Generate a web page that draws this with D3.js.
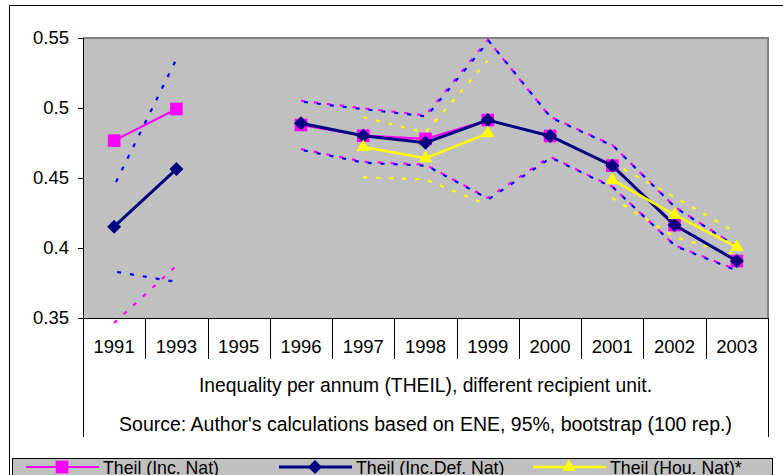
<!DOCTYPE html>
<html>
<head>
<meta charset="utf-8">
<title>Theil inequality per annum</title>
<script src="https://d3js.org/d3.v7.min.js"></script>
<style>
    body { margin: 0; background: #fff; }
    text { font-family: Arial, "Liberation Sans", sans-serif; fill: #000; }
    .ci { fill: none; stroke-width: 2.2; stroke-dasharray: 4 9; }
</style>
</head>
<body>
<script>
// categories (note: no survey for 1995)
var years = ["1991", "1993", "1995", "1996", "1997", "1998", "1999", "2000", "2001", "2002", "2003"];
var yTicks = [0.35, 0.4, 0.45, 0.5, 0.55];
var yTickLabels = ["0.35", "0.4", "0.45", "0.5", "0.55"];

// point estimates
var incNat    = [0.4767, 0.4993, null, 0.4879, 0.4802, 0.4779, 0.4914, 0.4800, 0.4588, 0.4164, 0.3907];
var incDefNat = [0.4152, 0.4564, null, 0.4891, 0.4802, 0.4752, 0.4914, 0.4800, 0.4588, 0.4164, 0.3907];
var houNat    = [null, null, null, null, 0.4721, 0.4641, 0.4819, null, 0.4486, 0.4236, 0.4007];

// 95% bootstrap bands
var incNatLo    = [0.3464, 0.3874, null, 0.4707, 0.4616, 0.4595, 0.4357, 0.4652, 0.4438, 0.4020, 0.3843];
var incNatHi    = [null, null, null, 0.5052, 0.4998, 0.4947, 0.5486, 0.4938, 0.4736, 0.4295, 0.4010];
var incDefNatLo = [0.3838, 0.3764, null, 0.4707, 0.4616, 0.4595, 0.4357, 0.4652, 0.4438, 0.4020, 0.3843];
var incDefNatHi = [0.4466, 0.5371, null, 0.5052, 0.4998, 0.4947, 0.5486, 0.4938, 0.4736, 0.4295, 0.4010];
var houNatLo    = [null, null, null, null, 0.4505, 0.4490, 0.4307, null, 0.4357, 0.4079, 0.3950];
var houNatHi    = [null, null, null, null, 0.4934, 0.4825, 0.5340, null, 0.4607, 0.4364, 0.4107];

var xTitle = "Inequality per annum (THEIL), different recipient unit.";
var source = "Source: Author's calculations based on ENE, 95%, bootstrap (100 rep.)";
var legendNames = ["Theil (Inc. Nat)", "Theil (Inc.Def. Nat)", "Theil (Hou. Nat)*"];

var W = 783, H = 475;
// plot box (note: "top" is taken by window.top, so prefixed names)
var pLeft = 83, pRight = 768, pTop = 38, pBottom = 318, tableBottom = 437;

var svg = d3.select("body").append("svg").attr("width", W).attr("height", H);

// outer chart frame (only top and left edges fall inside the window)
svg.append("path").attr("d", "M9.5," + H + "V5.5H" + W)
    .attr("fill", "none").attr("stroke", "#000");

var x = d3.scaleBand().domain(years).range([pLeft, pRight]);
var y = d3.scaleLinear().domain([0.35, 0.55]).range([pBottom, pTop]);

// plot area
svg.append("rect").attr("x", pLeft).attr("y", pTop)
    .attr("width", pRight - pLeft).attr("height", pBottom - pTop).attr("fill", "#c0c0c0");
svg.append("path").attr("d", "M" + pLeft + "," + pTop + "H" + pRight + "V" + pBottom)
    .attr("fill", "none").attr("stroke", "#808080").attr("stroke-width", 2);

// y axis
var yAxis = svg.append("g").attr("transform", "translate(" + pLeft + ",0)")
    .call(d3.axisLeft(y).tickValues(yTicks).tickSize(5).tickPadding(9)
        .tickFormat(function(d, i) { return yTickLabels[i]; }));
yAxis.select(".domain").remove();
yAxis.selectAll("text").style("font-size", "18.5px").attr("font-family", null);
yAxis.selectAll("line").attr("stroke", "#000");

// category table under the plot
svg.append("path").attr("d", "M" + pLeft + "," + (pBottom + 0.5) + "H" + pRight)
    .attr("stroke", "#000");
svg.append("path")
    .attr("d", "M" + (pLeft + 0.5) + "," + pTop + "V" + tableBottom + "M" + (pRight + 0.5) + "," + pBottom + "V" + tableBottom)
    .attr("stroke", "#000").attr("fill", "none");
svg.selectAll(".sep").data(years.slice(1)).enter().append("line")
    .attr("class", "sep")
    .attr("x1", function(d) { return Math.round(x(d)) + 0.5; })
    .attr("x2", function(d) { return Math.round(x(d)) + 0.5; })
    .attr("y1", pBottom).attr("y2", 359).attr("stroke", "#000");
svg.selectAll(".yr").data(years).enter().append("text")
    .attr("class", "yr")
    .attr("x", function(d) { return x(d) + x.bandwidth() / 2; })
    .attr("y", 353).attr("text-anchor", "middle").style("font-size", "18.5px")
    .text(function(d) { return d; });

svg.append("text").attr("x", (pLeft + pRight) / 2).attr("y", 392)
    .attr("text-anchor", "middle").style("font-size", "19.3px").text(xTitle);
svg.append("text").attr("x", (pLeft + pRight) / 2).attr("y", 431)
    .attr("text-anchor", "middle").style("font-size", "19.5px").text(source);

// lines
function lineFor(vals) {
    return d3.line()
        .defined(function(d) { return d != null; })
        .x(function(d, i) { return x(years[i]) + x.bandwidth() / 2; })
        .y(function(d) { return y(d); })(vals);
}

var bands = [
    {vals: incNatLo, color: "#ff00ff", shift: 0},
    {vals: incNatHi, color: "#ff00ff", shift: 0},
    {vals: incDefNatLo, color: "#0000ff", shift: 1},
    {vals: incDefNatHi, color: "#0000ff", shift: 1},
    {vals: houNatLo, color: "#ffff00", shift: 0},
    {vals: houNatHi, color: "#ffff00", shift: 0}
];
svg.selectAll(".ci").data(bands).enter().append("path")
    .attr("class", "ci")
    .attr("d", function(d) { return lineFor(d.vals); })
    .attr("stroke", function(d) { return d.color; })
    .attr("stroke-dashoffset", function(d) { return d.shift ? -2 : 0; })
    .attr("transform", function(d) { return "translate(" + d.shift + "," + d.shift + ")"; });

var series = [
    {vals: incNat, color: "#ff00ff", width: 2.2, symbol: d3.symbolSquare, size: 160, rotate: 0},
    {vals: incDefNat, color: "#000080", width: 3, symbol: d3.symbolSquare, size: 98, rotate: 45},
    {vals: houNat, color: "#ffff00", width: 2.5, symbol: d3.symbolTriangle, size: 80, rotate: 0}
];

series.forEach(function(s) {
    svg.append("path").attr("d", lineFor(s.vals))
        .attr("fill", "none").attr("stroke", s.color).attr("stroke-width", s.width);
    svg.selectAll(null).data(s.vals.map(function(v, i) { return {v: v, yr: years[i]}; })
            .filter(function(d) { return d.v != null; }))
        .enter().append("path")
        .attr("d", d3.symbol().type(s.symbol).size(s.size))
        .attr("fill", s.color)
        .attr("transform", function(d) {
            return "translate(" + (x(d.yr) + x.bandwidth() / 2) + "," + y(d.v) + ") rotate(" + s.rotate + ")";
        });
});

// legend
svg.append("rect").attr("x", 12.5).attr("y", 458.5).attr("width", 760).attr("height", 30)
    .attr("fill", "#c0c0c0").attr("stroke", "#000");
var legendX = [26, 279, 533];
series.forEach(function(s, i) {
    var g = svg.append("g").attr("transform", "translate(" + legendX[i] + ",467)");
    g.append("line").attr("x1", 0).attr("x2", 73).attr("stroke", s.color).attr("stroke-width", s.width);
    g.append("path").attr("d", d3.symbol().type(s.symbol).size(s.size))
        .attr("fill", s.color).attr("transform", "translate(36,0) rotate(" + s.rotate + ")");
    g.append("text").attr("x", 77).attr("y", 7).style("font-size", "17.7px").text(legendNames[i]);
});
</script>
</body>
</html>
